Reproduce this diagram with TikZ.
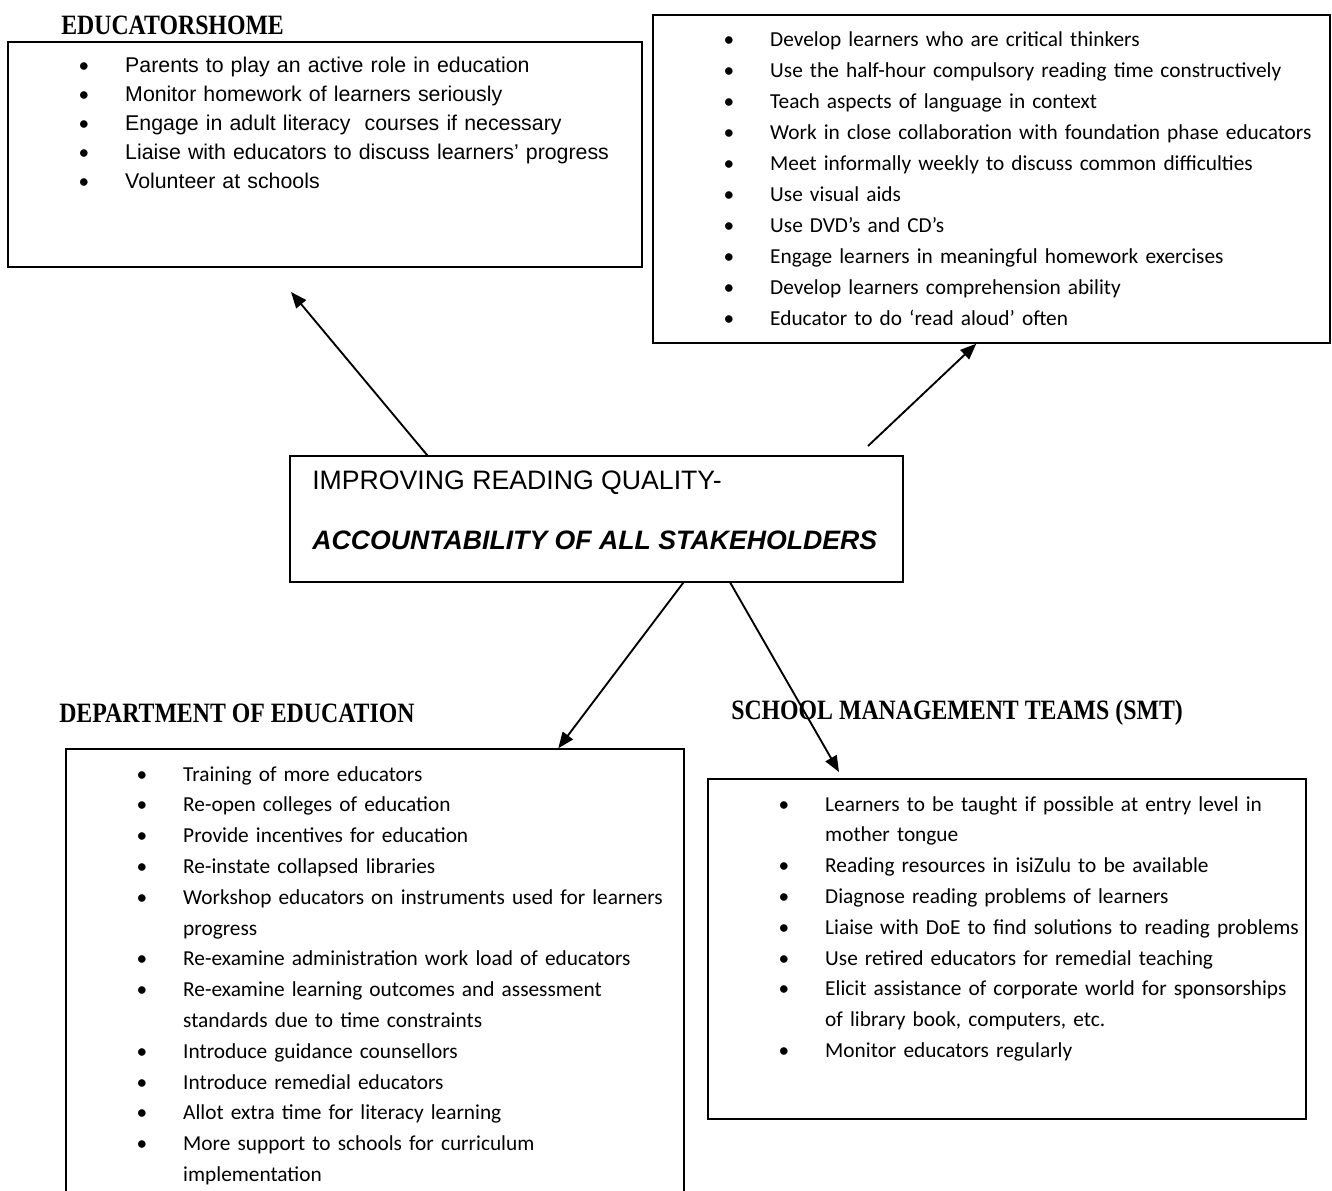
\documentclass[tikz,border=0pt]{standalone}
\usepackage{fontspec}
\setmainfont{Carlito}
\newfontfamily\arialfont{Liberation Sans}
\newfontfamily\headfont[FakeStretch=0.85]{Liberation Serif}
\usetikzlibrary{arrows.meta,fit,calc}
\newcommand{\bul}{\makebox[35pt][l]{\normalfont\textbullet}}
\newcommand{\gap}{\hspace*{35pt}}

\begin{document}
\begin{tikzpicture}[x=0.75pt,y=-0.75pt,
    box/.style={draw,line width=1.1pt,inner sep=0pt},
    head/.style={anchor=west,inner sep=0pt,
      font=\headfont\bfseries\fontsize{21}{25}\selectfont},
    list/.style={anchor=north west,inner sep=0pt,align=left,text width=560pt},
    link/.style={line width=1.4pt,-{Triangle[length=12pt,width=9.5pt]}}]
  \useasboundingbox (0,0) rectangle (1332,1191);

  % the five boxes
  \node[box,fit={(8,42) (642,267)}] (home) {};
  \node[box,fit={(653,15) (1330,343)}] (teach) {};
  \node[box,fit={(290,456) (903,582)}] (quality) {};
  \node[box,fit={(66,749) (684,1215)}] (dept) {};
  \node[box,fit={(708,779) (1306,1119)}] (smt) {};

  % headings
  \node[head] (homehead) at (61,25) {EDUCATORSHOME};
  \node[head] (depthead) at (59,713) {DEPARTMENT OF EDUCATION};
  \node[head] (smthead) at (731,713) {SCHOOL MANAGEMENT TEAMS (SMT)};

  % centre
  \node[anchor=west,inner sep=0pt,font=\arialfont\fontsize{20}{24}\selectfont]
    (qline1) at (312,483) {IMPROVING READING QUALITY-};
  \node[anchor=west,inner sep=0pt,font=\arialfont\bfseries\itshape\fontsize{20}{24}\selectfont]
    (qline2) at (312,540) {ACCOUNTABILITY OF ALL STAKEHOLDERS};

  % lists
  \node[list,font=\arialfont\fontsize{16}{21.75}\selectfont] (homelist) at (78.3,51.7) {%
    \strut\bul Parents to play an active role in education\\
    \bul Monitor homework of learners seriously\\
    \bul Engage in adult literacy \ courses if necessary\\
    \bul Liaise with educators to discuss learners’ progress\\
    \bul Volunteer at schools};

  \node[list,font=\fontsize{16}{23.25}\selectfont] (teachlist) at (723.3,24.3) {%
    \strut\bul Develop learners who are critical thinkers\\
    \bul Use the half-hour compulsory reading time constructively\\
    \bul Teach aspects of language in context\\
    \bul Work in close collaboration with foundation phase educators\\
    \bul Meet informally weekly to discuss common difficulties\\
    \bul Use visual aids\\
    \bul Use DVD’s and CD’s\\
    \bul Engage learners in meaningful homework exercises\\
    \bul Develop learners comprehension ability\\
    \bul Educator to do ‘read aloud’ often};

  \node[list,font=\fontsize{16}{23.1}\selectfont] (deptlist) at (136.3,759.3) {%
    \strut\bul Training of more educators\\
    \bul Re-open colleges of education\\
    \bul Provide incentives for education\\
    \bul Re-instate collapsed libraries\\
    \bul Workshop educators on instruments used for learners\\
    \gap progress\\
    \bul Re-examine administration work load of educators\\
    \bul Re-examine learning outcomes and assessment\\
    \gap standards due to time constraints\\
    \bul Introduce guidance counsellors\\
    \bul Introduce remedial educators\\
    \bul Allot extra time for literacy learning\\
    \bul More support to schools for curriculum\\
    \gap implementation};

  \node[list,font=\fontsize{16}{23.1}\selectfont] (smtlist) at (778.3,789.3) {%
    \strut\bul Learners to be taught if possible at entry level in\\
    \gap mother tongue\\
    \bul Reading resources in isiZulu to be available\\
    \bul Diagnose reading problems of learners\\
    \bul Liaise with DoE to find solutions to reading problems\\
    \bul Use retired educators for remedial teaching\\
    \bul Elicit assistance of corporate world for sponsorships\\
    \gap of library book, computers, etc.\\
    \bul Monitor educators regularly};

  % arrows
  \coordinate (homeend) at (291,292);
  \coordinate (teachstart) at (868,446);
  \coordinate (smtend) at (839,772);
  \draw[link] ($(quality.north west)+(138,0)$) -- (homeend);
  \draw[link] (teachstart) -- ($(teach.south west)+(324,0)$);
  \draw[link] ($(quality.south west)+(394,0)$) -- ($(dept.north west)+(493,0)$);
  \draw[link] ($(quality.south west)+(441,0)$) -- (smtend);
\end{tikzpicture}
\end{document}
